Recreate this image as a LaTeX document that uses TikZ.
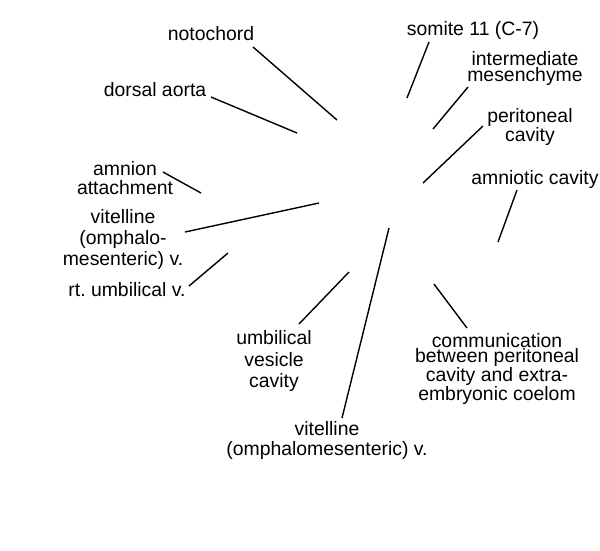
\documentclass[tikz,border=0pt]{standalone}
\usepackage{fontspec}
\setmainfont{Liberation Sans}
\frenchspacing
\begin{document}
\begin{tikzpicture}[x=1pt,y=-1pt,
  lbl/.style={inner sep=0pt,align=center,font=\fontsize{19.4}{#1}\selectfont\frenchspacing},
  lbl/.default=21,
  leader/.style={line width=1.4pt,black}]
\useasboundingbox (0,0) rectangle (600,550);
% labels
\node[lbl] (noto) at (211,34) {notochord};
\node[lbl] (aorta) at (155,90) {dorsal aorta};
\node[lbl=18.5] (amnatt) at (125,178) {amnion\\attachment};
\node[lbl=21] (vitl) at (123,239) {vitelline\\(omphalo-\\mesenteric) v.};
\node[lbl] (rtumb) at (127,290) {rt. umbilical v.};
\node[lbl] (somite) at (473,30) {somite 11 (C-7)};
\node[lbl=16] (inter) at (525,68) {intermediate\\mesenchyme};
\node[lbl=16.5] (perit) at (530,127) {peritoneal\\cavity};
\node[lbl] (amniot) at (535,179) {amniotic cavity};
\node[lbl=21.5] (umbves) at (274,361) {umbilical\\vesicle\\cavity};
\node[lbl=15] (comm) at (497,369) {communication\\between peritoneal\\cavity and extra-\\embryonic coelom};
\node[lbl=20] (vitb) at (327,440) {vitelline\\(omphalomesenteric) v.};
% leader ends
\coordinate (notoA) at (253,47);   \coordinate (notoB) at (337,120);
\coordinate (aortaA) at (211,97);  \coordinate (aortaB) at (297,133);
\coordinate (amnattA) at (163,172); \coordinate (amnattB) at (201,193);
\coordinate (vitlA) at (185,232);  \coordinate (vitlB) at (319,203);
\coordinate (rtumbA) at (189,286); \coordinate (rtumbB) at (228,253);
\coordinate (somiteA) at (429,42); \coordinate (somiteB) at (407,98);
\coordinate (interA) at (468,87);  \coordinate (interB) at (433,129);
\coordinate (peritA) at (483,126); \coordinate (peritB) at (423,183);
\coordinate (amniotA) at (517,190); \coordinate (amniotB) at (498,242);
\coordinate (vitbA) at (342,418);  \coordinate (vitbB) at (389,228);
\coordinate (umbvesA) at (299,324); \coordinate (umbvesB) at (349,272);
\coordinate (commA) at (467,328);  \coordinate (commB) at (434,284);
% leaders
\draw[leader] (notoA) -- (notoB);
\draw[leader] (aortaA) -- (aortaB);
\draw[leader] (amnattA) -- (amnattB);
\draw[leader] (vitlA) -- (vitlB);
\draw[leader] (rtumbA) -- (rtumbB);
\draw[leader] (somiteA) -- (somiteB);
\draw[leader] (interA) -- (interB);
\draw[leader] (peritA) -- (peritB);
\draw[leader] (amniotA) -- (amniotB);
\draw[leader] (vitbA) -- (vitbB);
\draw[leader] (umbvesA) -- (umbvesB);
\draw[leader] (commA) -- (commB);
\end{tikzpicture}
\end{document}
